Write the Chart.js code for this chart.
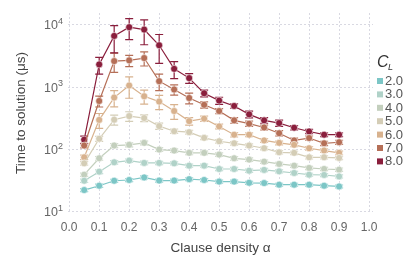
<!DOCTYPE html>
<html>
<head>
<meta charset="utf-8">
<script src="https://cdn.jsdelivr.net/npm/chart.js@4"></script>
<style>
html, body { margin: 0; padding: 0; background: #fff; }
</style>
</head>
<body>
<canvas id="chart" width="415" height="277"></canvas>
<script>
// clause density values on the x axis
const alpha = [0.05, 0.1, 0.15, 0.2, 0.25, 0.3, 0.35, 0.4, 0.45, 0.5, 0.55, 0.6, 0.65, 0.7, 0.75, 0.8, 0.85, 0.9];
const levels = ['2.0', '3.0', '4.0', '5.0', '6.0', '7.0', '8.0'];
const xTicks = [0, 0.1, 0.2, 0.3, 0.4, 0.5, 0.6, 0.7, 0.8, 0.9, 1.0];
const yTicks = [10, 100, 1000, 10000];
const yTickExp = ['1', '2', '3', '4'];

// time to solution (us), one array per C_L
const t2 = [22.4, 26.3, 31.6, 32.5, 35.7, 31.8, 31.8, 33.5, 32.5, 30.6, 30.6, 29.3, 29.0, 27.3, 27.3, 27.3, 26.3, 25.6];
const t3 = [31.6, 44.2, 62.4, 66.5, 61.0, 61.0, 60.1, 55.2, 55.2, 48.8, 48.8, 45.8, 47.1, 44.7, 42.1, 39.5, 39.1, 37.1];
const t4 = [39.5, 72.4, 116, 119, 128, 100, 96.3, 88.5, 88.5, 83, 72.4, 69, 64, 58.8, 55.2, 50.7, 48.8, 47.6];
const t5 = [60.1, 149, 301, 344, 320, 238, 197, 190, 154, 136, 126, 116, 105, 90.4, 88.5, 75.1, 75.1, 73.4];
const t6 = [75.1, 299, 682, 1065, 716, 588, 415, 286, 313, 235, 173, 173, 140, 128, 119, 105, 96.3, 88.5];
const t7 = [116, 601, 2625, 2695, 2937, 1250, 918, 672, 522, 415, 294, 260, 226, 183, 140, 153, 126, 131];
const t8 = [144, 2320, 6650, 9180, 8400, 4710, 1970, 1400, 800, 610, 500, 367, 294, 266, 224, 195, 173, 173];

// error bar half widths
const e2 = [1.2, 1.5, 1.8, 1.8, 2, 1.8, 1.8, 1.8, 1.8, 1.7, 1.7, 1.6, 1.6, 1.5, 1.5, 1.5, 1.4, 1.4];
const e3 = [2, 3, 4, 4, 4, 3.5, 3.5, 3.2, 3.2, 2.8, 2.8, 2.6, 2.7, 2.5, 2.4, 2.2, 2.2, 2.1];
const e4 = [2.5, 5, 9, 9, 9, 7, 6.5, 6, 6, 5.5, 5, 4.5, 4, 3.8, 3.5, 3.2, 3, 3];
const e5 = [4, 14, 55, 60, 40, 28, 15, 13, 10, 9, 8, 7, 6, 5.5, 5.5, 4.5, 4.5, 4.5];
const e6 = [6, 80, 200, 400, 180, 150, 110, 40, 30, 20, 14, 12, 10, 9, 8, 7, 6, 6];
const e7 = [10, 120, 900, 550, 750, 370, 170, 130, 60, 40, 30, 25, 20, 18, 12, 12, 10, 10];
const e8 = [20, 700, 3100, 3400, 3600, 2300, 600, 250, 100, 80, 40, 45, 30, 30, 18, 15, 12, 12];

const series = [t2, t3, t4, t5, t6, t7, t8];
const errors = [e2, e3, e4, e5, e6, e7, e8];
const colors = ['#7cc6c6', '#b0d2c8', '#c3cfbd', '#d4cdb6', '#d8b28e', '#b56f57', '#8a1e3c'];

const FONT = '"Liberation Sans", Arial, sans-serif';

const errorBars = {
    id: 'errorBars',
    beforeDatasetsDraw(chart) {
        const ctx = chart.ctx;
        const xs = chart.scales.x, ys = chart.scales.y;
        ctx.save();
        ctx.lineWidth = 1.2;
        chart.data.datasets.forEach(ds => {
            ctx.strokeStyle = ds.borderColor;
            ds.data.forEach((p, j) => {
                const e = ds.err[j];
                const px = xs.getPixelForValue(p.x);
                const top = ys.getPixelForValue(p.y + e);
                const bot = ys.getPixelForValue(Math.max(p.y - e, 1));
                ctx.beginPath();
                ctx.moveTo(px, top); ctx.lineTo(px, bot);
                ctx.moveTo(px - 4, top); ctx.lineTo(px + 4, top);
                ctx.moveTo(px - 4, bot); ctx.lineTo(px + 4, bot);
                ctx.stroke();
            });
        });
        ctx.restore();
    }
};

// y tick labels as 10 with a raised exponent
const powerTicks = {
    id: 'powerTicks',
    afterDraw(chart) {
        const ctx = chart.ctx, ys = chart.scales.y;
        const right = chart.chartArea.left - 5;
        ctx.save();
        ctx.fillStyle = '#666';
        ctx.textAlign = 'right';
        ctx.textBaseline = 'alphabetic';
        yTicks.forEach((v, i) => {
            const py = ys.getPixelForValue(v);
            ctx.font = '9px ' + FONT;
            const ew = ctx.measureText(yTickExp[i]).width;
            ctx.fillText(yTickExp[i], right, py - 1);
            ctx.font = '12.5px ' + FONT;
            ctx.fillText('10', right - ew, py + 4.5);
        });
        ctx.restore();
    }
};

const legend = {
    id: 'clLegend',
    afterDraw(chart) {
        const ctx = chart.ctx;
        ctx.save();
        ctx.fillStyle = '#333';
        ctx.textBaseline = 'alphabetic';
        ctx.font = 'italic 16px ' + FONT;
        ctx.fillText('C', 377, 67);
        ctx.font = 'italic 9px ' + FONT;
        ctx.fillText('L', 388, 70);
        ctx.textBaseline = 'middle';
        ctx.font = '13px ' + FONT;
        levels.forEach((lab, i) => {
            const y = 81 + i * 13.4;
            ctx.fillStyle = colors[i];
            ctx.fillRect(377, y - 3, 6, 6);
            ctx.fillStyle = '#555';
            ctx.fillText(lab, 385, y + 0.5);
        });
        ctx.restore();
    }
};

const datasets = series.map((vals, i) => ({
    label: levels[i],
    data: alpha.map((a, j) => ({ x: a, y: vals[j] })),
    err: errors[i],
    borderColor: colors[i],
    backgroundColor: colors[i],
    borderWidth: 1.2,
    pointRadius: 3.5,
    pointBorderColor: 'rgba(255,255,255,0.7)',
    pointBorderWidth: 0.8,
    pointBackgroundColor: colors[i],
    tension: 0
}));

new Chart(document.getElementById('chart'), {
    type: 'line',
    data: { datasets: datasets },
    options: {
        responsive: false,
        animation: false,
        layout: { padding: { left: 0, right: 42, top: 13, bottom: 0 } },
        plugins: { legend: { display: false }, tooltip: { enabled: false } },
        scales: {
            x: {
                type: 'linear',
                min: -0.004,
                max: 1.013,
                afterBuildTicks: s => { s.ticks = xTicks.map(v => ({ value: v })); },
                afterFit: s => { s.height = 64; },
                grid: { color: '#d9d9e2', lineWidth: 1, drawTicks: false },
                border: { display: false, dash: [2, 2] },
                ticks: {
                    padding: 7,
                    color: '#666',
                    font: { family: FONT, size: 12 },
                    callback: v => v.toFixed(1)
                },
                title: {
                    display: true,
                    text: 'Clause density \u03b1',
                    color: '#444',
                    font: { family: FONT, size: 13.5 },
                    padding: { top: 0, bottom: 21 }
                }
            },
            y: {
                type: 'logarithmic',
                min: 9.6,
                max: 15500,
                afterBuildTicks: s => { s.ticks = yTicks.map(v => ({ value: v })); },
                afterFit: s => { s.width = 68; },
                grid: { color: '#d9d9e2', lineWidth: 1, drawTicks: false },
                border: { display: false, dash: [2, 2] },
                ticks: { display: false },
                title: {
                    display: true,
                    text: 'Time to solution (\u03bcs)',
                    color: '#444',
                    font: { family: FONT, size: 13.5 },
                    padding: { top: 13, bottom: 0 }
                }
            }
        }
    },
    plugins: [errorBars, powerTicks, legend]
});
</script>
</body>
</html>
